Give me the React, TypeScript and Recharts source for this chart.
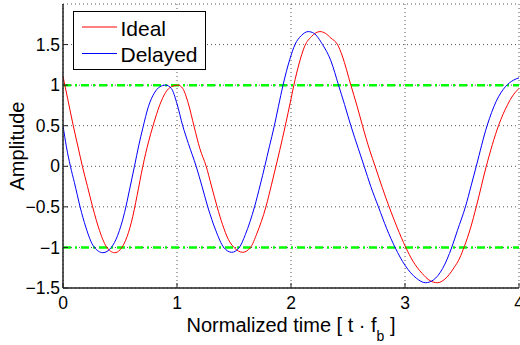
import { LineChart, Line, XAxis, YAxis, CartesianGrid, ReferenceLine } from 'recharts'

// sampled waveforms, time in bit periods
const idealT = [
  0, 0.04, 0.09, 0.13, 0.17, 0.215, 0.26, 0.32, 0.38, 0.453, 0.5, 0.55, 0.6, 0.65, 0.7, 0.75, 0.79, 0.85,
  0.9, 0.95, 1.01, 1.05, 1.1, 1.15, 1.2, 1.256, 1.3, 1.352, 1.4, 1.45, 1.5, 1.576, 1.645, 1.7, 1.78, 1.83,
  1.868, 1.9, 1.95, 2.0, 2.025, 2.07, 2.12, 2.18, 2.254, 2.3, 2.35, 2.408, 2.45, 2.525, 2.58, 2.627, 2.69,
  2.738, 2.8, 2.861, 2.93, 3.007, 3.07, 3.15, 3.22, 3.284, 3.35, 3.43, 3.48, 3.52, 3.575, 3.625, 3.713, 3.82,
  3.9, 3.95, 4.0,
]
const idealV = [
  1.107, 0.84, 0.5, 0.25, 0.0, -0.25, -0.5, -0.79, -0.99, -1.065, -1.03, -0.91, -0.69, -0.36, 0.0, 0.3, 0.5, 0.76,
  0.91, 0.98, 1.0, 0.96, 0.77, 0.49, 0.22, 0.0, -0.23, -0.5, -0.72, -0.9, -1.0, -1.06, -1.0, -0.83, -0.5, -0.22,
  0.0, 0.19, 0.5, 0.83, 1.0, 1.26, 1.48, 1.6, 1.66, 1.64, 1.58, 1.5, 1.36, 1.0, 0.74, 0.5, 0.2,
  0.0, -0.26, -0.5, -0.75, -1.0, -1.17, -1.32, -1.41, -1.435, -1.39, -1.25, -1.13, -0.99, -0.76, -0.5, 0.0, 0.5,
  0.76, 0.88, 0.96,
]

const delayedT = [
  0, 0.03, 0.065, 0.1, 0.15, 0.2, 0.27, 0.35, 0.424, 0.48, 0.54, 0.585, 0.627, 0.665, 0.7, 0.75, 0.8, 0.85,
  0.9, 0.95, 1.0, 1.05, 1.1, 1.168, 1.22, 1.27, 1.34, 1.41, 1.48, 1.547, 1.6, 1.68, 1.73, 1.77, 1.81, 1.854,
  1.89, 1.93, 1.99, 2.035, 2.09, 2.151, 2.2, 2.277, 2.35, 2.417, 2.47, 2.525, 2.59, 2.642, 2.7, 2.767, 2.84,
  2.913, 3.0, 3.1, 3.18, 3.25, 3.33, 3.41, 3.46, 3.53, 3.58, 3.625, 3.72, 3.8, 3.88, 3.95, 4.0,
]
const delayedV = [
  0.5, 0.24, 0.0, -0.2, -0.5, -0.75, -0.99, -1.065, -1.0, -0.85, -0.57, -0.28, 0.0, 0.26, 0.47, 0.74, 0.9, 0.98,
  1.0, 0.96, 0.77, 0.5, 0.28, 0.0, -0.25, -0.5, -0.79, -1.0, -1.06, -1.0, -0.84, -0.5, -0.23, 0.0, 0.24, 0.5,
  0.74, 1.0, 1.32, 1.5, 1.61, 1.66, 1.64, 1.5, 1.3, 1.0, 0.76, 0.5, 0.22, 0.0, -0.25, -0.5, -0.77,
  -1.0, -1.22, -1.38, -1.435, -1.4, -1.26, -1.0, -0.79, -0.5, -0.24, 0.0, 0.5, 0.8, 0.98, 1.06, 1.09,
]

const xTicks = [0, 1, 2, 3, 4]
const yTicks = [-1.5, -1, -0.5, 0, 0.5, 1, 1.5]
const limitLevels = [-1, 1]
const seriesNames = ['Ideal', 'Delayed']
const seriesColors = ['#ff0000', '#0000ff']

const ideal = idealT.map((t, i) => ({ t, v: idealV[i] }))
const delayed = delayedT.map((t, i) => ({ t, v: delayedV[i] }))

const FONT = '"Liberation Sans", Arial, Helvetica, sans-serif'
const AXIS = '#222'

const fmtTick = (v: number) => String(v).replace('-', '\u2212')

// eslint-disable-next-line @typescript-eslint/no-explicit-any
const XLabel = ({ viewBox }: any) => (
  <text
    x={viewBox.x + viewBox.width / 2}
    y={viewBox.y + 43.5}
    textAnchor="middle"
    fontSize={20}
    fontFamily={FONT}
    fill="#000"
  >
    Normalized time [ t · f
    <tspan dy={9} fontSize={14}>b</tspan>
    <tspan dy={-9}> ]</tspan>
  </text>
)

// eslint-disable-next-line @typescript-eslint/no-explicit-any
const YLabel = ({ viewBox }: any) => {
  const x = viewBox.x + 24
  const y = viewBox.y + viewBox.height / 2
  return (
    <text
      x={x}
      y={y}
      transform={`rotate(-90, ${x}, ${y})`}
      textAnchor="middle"
      fontSize={20}
      fontFamily={FONT}
      fill="#000"
    >
      Amplitude
    </text>
  )
}

function LegendBox() {
  return (
    <svg
      width={520}
      height={345}
      style={{ position: 'absolute', left: 0, top: 0, pointerEvents: 'none' }}
    >
      <rect x={73.5} y={11.5} width={132} height={58} fill="#fff" stroke="#000" strokeWidth={1} />
      {seriesNames.map((name, i) => (
        <g key={name}>
          <line x1={82} x2={117} y1={27 + i * 26.5} y2={27 + i * 26.5} stroke={seriesColors[i]} strokeWidth={1} />
          <text x={120.5} y={35.5 + i * 26.5} fontSize={21} fontFamily={FONT} fill="#000">
            {name}
          </text>
        </g>
      ))}
    </svg>
  )
}

export default function App() {
  const tickStyle = { fill: '#000', fontSize: 17.5, fontFamily: FONT }
  return (
    <div style={{ position: 'absolute', left: 0, top: 0, width: 520, height: 345, background: '#fff' }}>
      <LineChart width={520} height={345} margin={{ top: 4, right: 1, bottom: 1, left: 0 }}>
        <CartesianGrid xAxisId="bottom" yAxisId="left" stroke="#555" strokeDasharray="1 3" />
        <XAxis
          xAxisId="bottom"
          dataKey="t"
          type="number"
          domain={[0, 4]}
          ticks={xTicks}
          interval={0}
          allowDataOverflow
          height={56}
          tickSize={-5}
          tickMargin={14}
          stroke={AXIS}
          axisLine={{ stroke: AXIS, strokeWidth: 1.5 }}
          tick={tickStyle}
          label={XLabel}
        />
        <XAxis
          xAxisId="top"
          orientation="top"
          dataKey="t"
          type="number"
          domain={[0, 4]}
          ticks={xTicks}
          interval={0}
          height={0}
          tickSize={-5}
          tick={false}
          stroke={AXIS}
          axisLine={{ stroke: AXIS, strokeWidth: 1.5 }}
        />
        <YAxis
          yAxisId="left"
          type="number"
          domain={[-1.5, 2]}
          ticks={yTicks}
          interval={0}
          allowDataOverflow
          width={63}
          tickSize={-5}
          tickMargin={8}
          tickFormatter={fmtTick}
          stroke={AXIS}
          axisLine={{ stroke: AXIS, strokeWidth: 1.5 }}
          tick={tickStyle}
          label={YLabel}
        />
        <YAxis
          yAxisId="right"
          orientation="right"
          type="number"
          domain={[-1.5, 2]}
          ticks={yTicks}
          interval={0}
          width={0}
          tickSize={-5}
          tick={false}
          stroke={AXIS}
          axisLine={{ stroke: AXIS, strokeWidth: 1.5 }}
        />
        {limitLevels.map((lv) => (
          <ReferenceLine
            key={lv}
            xAxisId="bottom"
            yAxisId="left"
            y={lv}
            stroke="#00ff00"
            strokeWidth={2.5}
            strokeDasharray="8 4 2 4"
          />
        ))}
        <Line
          xAxisId="bottom"
          yAxisId="left"
          data={ideal}
          dataKey="v"
          name={seriesNames[0]}
          type="monotone"
          stroke={seriesColors[0]}
          strokeWidth={1}
          dot={false}
          isAnimationActive={false}
        />
        <Line
          xAxisId="bottom"
          yAxisId="left"
          data={delayed}
          dataKey="v"
          name={seriesNames[1]}
          type="monotone"
          stroke={seriesColors[1]}
          strokeWidth={1}
          dot={false}
          isAnimationActive={false}
        />
      </LineChart>
      <LegendBox />
    </div>
  )
}
